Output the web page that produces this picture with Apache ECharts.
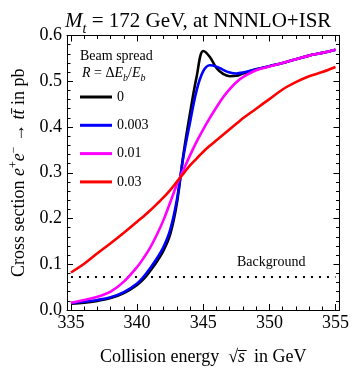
<!DOCTYPE html>
<html><head><meta charset="utf-8">
<script src="https://cdn.jsdelivr.net/npm/echarts@6/dist/echarts.min.js"></script>
<style>html,body{margin:0;padding:0;background:#fff}#c{width:352px;height:371px}</style>
</head><body><div id="c"></div>
<script>
const energy = [335,336,337,338,339,340,340.5,341,341.5,342,342.5,343,343.5,344,344.5,345,345.5,346,346.5,347,347.5,348,349,350,351,352,353,354,355];
const sigma0    = [0.014,0.016,0.020,0.026,0.037,0.055,0.068,0.086,0.106,0.130,0.165,0.232,0.340,0.430,0.510,0.566,0.553,0.529,0.516,0.511,0.512,0.517,0.526,0.533,0.540,0.548,0.556,0.562,0.569];
const sigma003  = [0.015,0.018,0.022,0.028,0.039,0.058,0.073,0.092,0.113,0.138,0.175,0.240,0.335,0.410,0.480,0.522,0.535,0.532,0.525,0.519,0.517,0.519,0.526,0.533,0.540,0.548,0.556,0.562,0.569];
const sigma01   = [0.016,0.022,0.029,0.040,0.062,0.094,0.114,0.137,0.165,0.197,0.235,0.274,0.306,0.338,0.368,0.395,0.420,0.443,0.465,0.483,0.498,0.509,0.524,0.532,0.540,0.548,0.556,0.562,0.569];
const sigma03   = [0.082,0.101,0.124,0.146,0.169,0.193,0.205,0.218,0.232,0.246,0.262,0.280,0.298,0.316,0.331,0.346,0.359,0.371,0.383,0.395,0.407,0.419,0.440,0.461,0.482,0.498,0.511,0.520,0.531];
const seriesNames = ['0','0.003','0.01','0.03'];
const seriesColors = ['#000000','#0000ff','#ff00ff','#ff0000'];
const bgEnergy = [335, 355];
const bgValue = [0.072, 0.072];
const xMajor = [335,340,345,350,355];
const xMinor = [336,337,338,339,341,342,343,344,346,347,348,349,351,352,353,354];

const FONT = '"Liberation Serif", "Times New Roman", serif';
const pair = (xs, ys) => xs.map((x, i) => [x, ys[i]]);
const allVals = [sigma0, sigma003, sigma01, sigma03];

const xBase = {type:'value', min:334.7, max:355.3, gridIndex:0, splitLine:{show:false}};
function xAx(pos, vals, len, showLine, showLabel){
  return Object.assign({}, xBase, {
    position: pos,
    axisLine:{show:showLine, lineStyle:{color:'#000', width:1}},
    axisTick:{show:true, inside:true, length:len, customValues: vals, lineStyle:{color:'#000', width:1}},
    axisLabel: showLabel ? {show:true, customValues: vals, fontSize:18, fontFamily:FONT, color:'#000', margin:4} : {show:false}
  });
}
const xAxes = [
  xAx('bottom', xMajor, 6, true, true),
  xAx('bottom', xMinor, 3.5, false, false),
  xAx('top', xMajor, 6, true, false),
  xAx('top', xMinor, 3.5, false, false)
];
xAxes[0].name = '{n|Collision energy  √}{i|s\u0305}{n|  in GeV}';
xAxes[0].nameLocation = 'middle';
xAxes[0].nameGap = 38;
xAxes[0].nameTextStyle = {fontFamily:FONT, fontSize:18, color:'#000', rich:{
  n:{fontFamily:FONT, fontSize:18, color:'#000'},
  i:{fontFamily:FONT, fontSize:18, fontStyle:'italic', color:'#000'}
}};

function yAx(pos, showLabel){
  return {
    type:'value', min:0, max:0.6, interval:0.1, position:pos,
    splitLine:{show:false},
    axisLine:{show:true, lineStyle:{color:'#000', width:1}},
    axisTick:{show:true, inside:true, length:6, lineStyle:{color:'#000', width:1}},
    minorTick:{show:true, splitNumber:5, length:3.5, lineStyle:{color:'#000', width:1}},
    axisLabel: showLabel ? {show:true, fontSize:18, fontFamily:FONT, color:'#000', margin:5, formatter:v=>v.toFixed(1)} : {show:false}
  };
}
const yAxes = [yAx('left', true), yAx('right', false)];
yAxes[0].name = '{n|Cross section }{i|e}{sup|+}{i|e}{sup|\u2212}{n| \u2192 }{i|tt\u0304}{n| in pb}';
yAxes[0].nameLocation = 'middle';
yAxes[0].nameGap = 37;
yAxes[0].nameRotate = 90;
yAxes[0].nameTextStyle = {fontFamily:FONT, fontSize:18, color:'#000', rich:{
  n:{fontFamily:FONT, fontSize:18, color:'#000'},
  i:{fontFamily:FONT, fontSize:18, fontStyle:'italic', color:'#000'},
  sup:{fontFamily:FONT, fontSize:12, color:'#000', verticalAlign:'top', lineHeight:22}
}};

const series = seriesNames.map((nm, k) => ({
  name: nm, type:'line', xAxisIndex:0, yAxisIndex:0,
  data: pair(energy, allVals[k]),
  smooth:0.35, showSymbol:false, symbol:'none',
  itemStyle:{color:seriesColors[k]},
  lineStyle:{color:seriesColors[k], width:2.6},
  z: 2 + k
}));
series.unshift({
  name:'Background', type:'line', xAxisIndex:0, yAxisIndex:0,
  data: pair(bgEnergy, bgValue), showSymbol:false, symbol:'none',
  lineStyle:{color:'#000', width:2, type:[2,6]}, z:1
});

const option = {
  animation:false,
  backgroundColor:'#fff',
  title:{
    text:'{i|M}{sub|t}{n| = 172 GeV, at NNNLO+ISR}',
    left:60, top:1,
    textStyle:{fontFamily:FONT, fontSize:21, fontWeight:'normal', color:'#000', rich:{
      i:{fontFamily:FONT, fontSize:21, fontStyle:'italic', color:'#000'},
      sub:{fontFamily:FONT, fontSize:14, fontStyle:'italic', color:'#000', verticalAlign:'bottom', lineHeight:30},
      n:{fontFamily:FONT, fontSize:21, color:'#000'}
    }}
  },
  grid:{left:66, right:9, top:35.5, bottom:57.5, containLabel:false},
  xAxis: xAxes,
  yAxis: yAxes,
  legend:{
    data: seriesNames, orient:'vertical', left:80, top:90, padding:0,
    icon:'rect', itemWidth:32, itemHeight:3, itemGap:14.3,
    textStyle:{fontFamily:FONT, fontSize:14, color:'#000'},
    selectedMode:false
  },
  graphic:[
    {type:'text', left:80, top:49, style:{text:'Beam spread', font:'14px "Liberation Serif"', fill:'#000'}},
    {type:'text', left:82, top:66, style:{
      text:'{i|R}{n| = \u0394}{i|E}{s|b}{n|/}{i|E}{s|b}',
      rich:{
        i:{fontFamily:FONT, fontSize:14, fontStyle:'italic', fill:'#000'},
        n:{fontFamily:FONT, fontSize:14, fill:'#000'},
        s:{fontFamily:FONT, fontSize:10, fontStyle:'italic', fill:'#000', verticalAlign:'bottom', lineHeight:20}
      }}},
    {type:'text', left:237, top:255, style:{text:'Background', font:'14px "Liberation Serif"', fill:'#000'}}
  ],
  series: series
};
const chart = echarts.init(document.getElementById('c'), null, {renderer:'canvas'});
chart.setOption(option);
</script></body></html>
